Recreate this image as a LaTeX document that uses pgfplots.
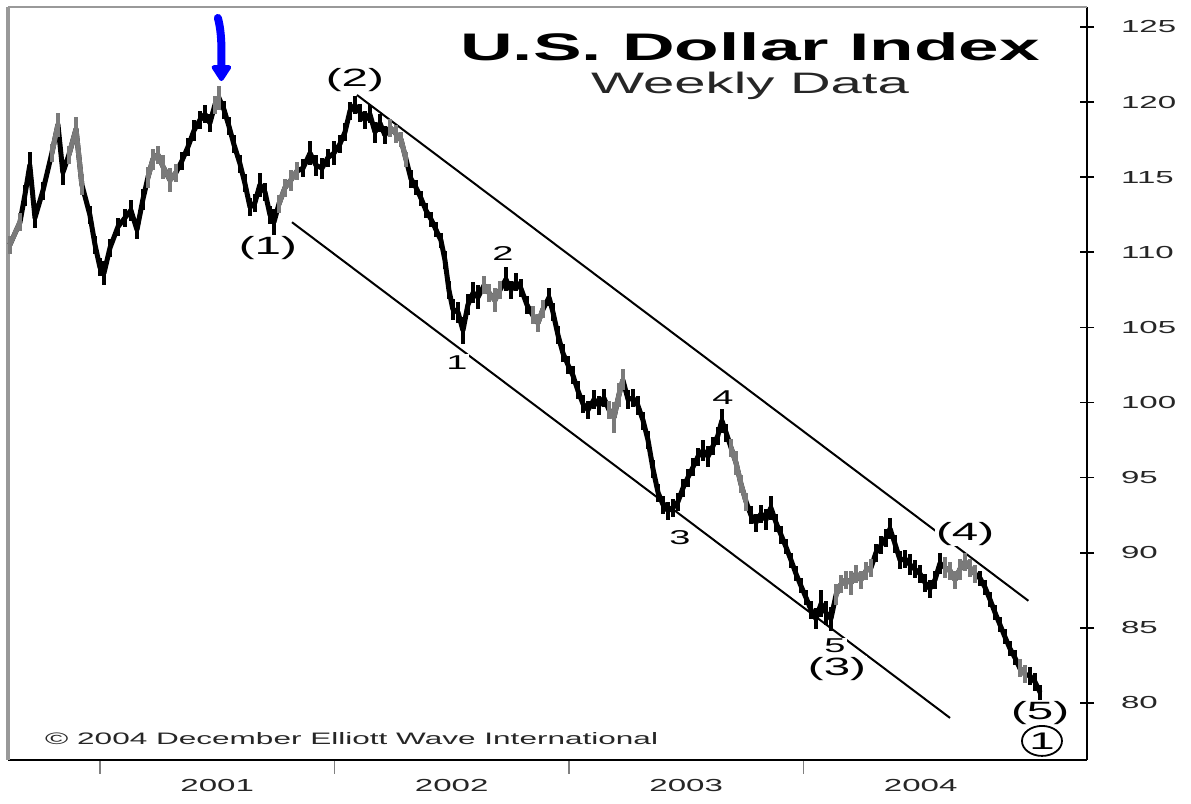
\documentclass[border=0pt]{standalone}
\usepackage{fontspec}
\setmainfont{Liberation Sans}[FakeStretch=1.9]
\usepackage{pgfplots}
\pgfplotsset{compat=1.18}
\usepackage{pgfplotstable}
\usetikzlibrary{arrows.meta,shapes.geometric}

\pgfplotstableread{
x y r
2000.616 110.5 0.6
2000.659 112.0 0.6
2000.680 113.8 0.7
2000.701 115.8 0.9
2000.723 112.3 0.7
2000.757 114.1 0.6
2000.795 116.6 0.6
2000.821 118.5 0.8
2000.842 115.3 0.8
2000.868 116.5 0.6
2000.898 118.2 0.8
2000.923 114.5 0.7
2000.957 112.5 0.6
2000.979 110.5 0.6
2001.000 109.0 0.6
2001.017 108.6 0.8
2001.043 110.3 0.6
2001.077 111.7 0.6
2001.107 112.3 0.6
2001.132 112.8 0.7
2001.158 111.5 0.6
2001.183 113.5 0.7
2001.205 115.0 0.7
2001.226 116.2 0.7
2001.247 116.5 0.6
2001.269 115.7 0.8
2001.299 114.8 0.8
2001.324 115.3 0.6
2001.350 116.1 0.6
2001.375 117.0 0.6
2001.401 118.1 0.7
2001.426 118.8 0.6
2001.448 119.2 0.6
2001.469 118.6 0.6
2001.490 119.8 0.6
2001.507 120.3 0.8
2001.529 119.5 0.6
2001.550 118.4 0.6
2001.571 117.2 0.6
2001.597 115.9 0.6
2001.618 114.6 0.6
2001.640 113.0 0.6
2001.661 113.3 0.6
2001.682 114.5 0.8
2001.704 114.0 0.6
2001.725 112.5 0.6
2001.742 112.0 0.9
2001.763 113.2 0.6
2001.789 114.3 0.6
2001.814 114.8 0.7
2001.840 115.4 0.6
2001.866 115.6 0.6
2001.896 116.6 0.8
2001.921 115.8 0.7
2001.947 115.6 0.7
2001.972 116.3 0.6
2001.998 116.6 0.8
2002.023 117.2 0.6
2002.045 118.0 0.6
2002.066 119.4 0.6
2002.087 119.8 0.6
2002.109 119.3 0.6
2002.130 118.8 0.6
2002.151 119.2 0.6
2002.173 118.0 0.7
2002.194 118.6 0.6
2002.215 117.8 0.6
2002.237 118.3 0.6
2002.262 117.9 0.6
2002.284 117.5 0.5
2002.305 116.2 0.5
2002.326 114.9 0.6
2002.348 114.3 0.5
2002.369 113.6 0.5
2002.390 112.8 0.5
2002.412 112.2 0.5
2002.433 111.5 0.5
2002.454 110.8 0.5
2002.471 109.5 0.6
2002.488 107.5 0.6
2002.505 106.2 0.7
2002.527 106.0 0.7
2002.548 104.8 0.9
2002.569 106.5 0.7
2002.591 107.3 0.7
2002.612 107.0 0.8
2002.638 107.8 0.6
2002.659 107.3 0.6
2002.684 106.8 0.8
2002.706 107.5 0.6
2002.731 108.2 0.8
2002.753 107.5 0.6
2002.774 108.0 0.6
2002.795 107.6 0.6
2002.821 106.5 0.6
2002.846 105.8 0.6
2002.868 105.3 0.6
2002.889 106.2 0.6
2002.915 107.0 0.6
2002.932 106.0 0.6
2002.953 104.5 0.6
2002.974 103.3 0.6
2002.996 102.5 0.6
2003.017 101.8 0.6
2003.038 100.8 0.6
2003.060 99.9 0.6
2003.081 99.5 0.6
2003.107 100.2 0.6
2003.128 99.8 0.6
2003.149 100.3 0.6
2003.171 99.5 0.6
2003.192 99.0 1.0
2003.213 100.5 0.8
2003.230 101.5 0.7
2003.252 100.2 0.6
2003.273 100.3 0.6
2003.294 99.8 0.6
2003.316 98.8 0.6
2003.337 97.5 0.6
2003.358 95.6 0.6
2003.380 94.0 0.6
2003.401 93.2 0.6
2003.422 92.8 0.6
2003.444 93.0 0.6
2003.465 93.4 0.6
2003.486 94.3 0.6
2003.507 95.0 0.6
2003.529 95.7 0.6
2003.550 96.4 0.6
2003.571 96.8 0.7
2003.593 96.4 0.7
2003.614 97.1 0.6
2003.635 97.8 0.6
2003.652 98.8 0.8
2003.670 98.0 0.6
2003.691 97.0 0.6
2003.712 96.0 0.8
2003.733 94.6 0.6
2003.755 93.4 0.6
2003.776 92.5 0.6
2003.797 92.0 0.6
2003.819 92.6 0.6
2003.840 92.2 0.7
2003.861 93.0 0.8
2003.883 92.0 0.6
2003.904 91.2 0.6
2003.925 90.4 0.5
2003.947 89.5 0.5
2003.968 88.6 0.5
2003.989 87.8 0.5
2004.011 87.0 0.5
2004.032 86.2 0.6
2004.053 85.6 0.7
2004.075 86.6 0.9
2004.096 86.0 0.8
2004.117 85.6 0.8
2004.139 87.2 0.7
2004.160 87.9 0.6
2004.181 88.2 0.6
2004.203 88.0 0.8
2004.224 88.6 0.6
2004.245 88.2 0.6
2004.267 88.8 0.6
2004.288 89.0 0.6
2004.309 90.0 0.6
2004.330 90.5 0.6
2004.352 91.0 0.6
2004.369 91.6 0.7
2004.390 90.6 0.6
2004.412 89.5 0.6
2004.433 89.6 0.6
2004.454 89.2 0.7
2004.475 88.9 0.6
2004.497 88.6 0.6
2004.518 88.0 0.6
2004.539 87.6 0.6
2004.561 88.2 0.6
2004.582 89.3 0.7
2004.603 89.0 0.7
2004.625 88.8 0.6
2004.646 88.2 0.6
2004.667 88.9 0.7
2004.689 89.4 0.6
2004.710 89.0 0.6
2004.731 88.6 0.6
2004.753 88.3 0.5
2004.774 87.7 0.5
2004.795 86.9 0.5
2004.817 86.0 0.5
2004.838 85.2 0.5
2004.859 84.4 0.5
2004.881 83.6 0.5
2004.902 83.0 0.5
2004.923 82.3 0.6
2004.945 81.9 0.6
2004.966 81.8 0.6
2004.987 81.4 0.6
2005.009 80.7 0.5
}\dxy

\definecolor{upgray}{HTML}{7A7A7A}

\begin{document}
\begin{tikzpicture}
\begin{axis}[
  scale only axis, width=539.5pt, height=376.5pt,
  xmin=2000.608, xmax=2005.209, ymin=76.2, ymax=126.33,
  axis x line*=bottom, axis y line*=right,
  axis line style={line width=1.3pt, black},
  xtick={2001,2002,2003,2004}, xticklabels={},
  extra x ticks={2001.5,2002.5,2003.5,2004.5},
  extra x tick labels={2001,2002,2003,2004},
  extra x tick style={major tick length=0pt, tick style={draw=none}},
  ytick={80,85,...,125},
  xtick align=outside, ytick align=center,
  major tick length=7pt,
  x tick style={black!50, line width=0.6pt},
  y tick style={black, line width=0.8pt},
  /pgf/number format/assume math mode=true,
  ticklabel style={font=\fontsize{8.7}{10}\selectfont, text=black!85},
  yticklabel style={anchor=west, xshift=10pt},
  xticklabel style={yshift=-6pt},
  clip=false,
  hl/.style={line width=2.5pt, line join=round, no marks,
    error bars/y dir=both, error bars/y explicit, error bars/error mark=none,
    error bars/error bar style={line width=2.2pt}},
]
\draw[black!40, line width=2pt] (rel axis cs:0,0) -- (rel axis cs:0,1);
\draw[black!40, line width=1pt] (rel axis cs:0,1) -- (rel axis cs:1,1);

% channel lines
\draw[black, line width=1pt] (axis cs:2002.096,120.47) -- (axis cs:2004.959,86.8);
\draw[black, line width=1pt] (axis cs:2001.819,112.0) -- (axis cs:2004.625,79.0);

\addplot[black, hl] table[x=x, y=y, y error=r] {\dxy};
\foreach \a/\b in {2000.60/2000.66, 2000.79/2000.83, 2000.86/2000.91, 2001.21/2001.32, 2001.48/2001.51, 2001.76/2001.85, 2002.23/2002.30, 2002.63/2002.70, 2002.86/2002.90, 2003.17/2003.24, 2003.70/2003.75, 2004.14/2004.29, 2004.60/2004.73, 2004.92/2004.95}{
  \edef\temp{\noexpand\addplot[upgray, restrict x to domain=\a:\b, hl] table[x=x, y=y, y error=r] {\noexpand\dxy};}
  \temp
}

% wave labels
\tikzset{wl/.style={font=\fontsize{12.5}{14}\selectfont, inner sep=0.6pt, fill=white}}
\tikzset{ws/.style={font=\fontsize{10}{12}\selectfont, inner sep=0.6pt, fill=white}}
\node[wl] at (axis cs:2001.716,110.27) {(1)};
\node[wl] at (axis cs:2002.087,121.47) {(2)};
\node[ws] at (axis cs:2002.522,102.67) {1};
\node[ws] at (axis cs:2002.719,109.93) {2};
\node[ws] at (axis cs:2003.473,91.0) {3};
\node[ws] at (axis cs:2003.657,100.33) {4};
\node[ws] at (axis cs:2004.134,83.8) {5};
\node[wl] at (axis cs:2004.143,82.27) {(3)};
\node[wl] at (axis cs:2004.689,91.27) {(4)};
\node[wl] at (axis cs:2005.009,79.33) {(5)};
\node[draw, ellipse, line width=0.9pt, minimum width=20pt, minimum height=15pt, inner sep=0pt, font=\fontsize{12}{14}\selectfont] at (axis cs:2005.017,77.47) {1};

% titles
\node[anchor=base, font=\fontsize{19.2}{22}\selectfont\bfseries] at (axis cs:2003.772,122.8) {U.S. Dollar Index};
\node[anchor=base, font=\fontsize{14.8}{17}\selectfont, text=black!85] at (axis cs:2003.772,120.6) {Weekly Data};
\node[anchor=base west, font=\fontsize{8.3}{10}\selectfont, inner sep=0pt, text=black!85] at (axis cs:2000.765,77.2) {\textcopyright{} 2004 December Elliott Wave International};

% blue arrow
\draw[blue, line width=4pt, line cap=round, -{Triangle[round, width=11pt, length=9pt]}]
  (axis cs:2001.503,125.6) .. controls (axis cs:2001.522,124.5) and (axis cs:2001.518,123.2) .. (axis cs:2001.518,121.4);
\end{axis}
\pgfresetboundingbox
\path ([shift={(-4pt,-22pt)}]current axis.south west) rectangle ([shift={(52pt,3.5pt)}]current axis.north east);
\end{tikzpicture}
\end{document}
